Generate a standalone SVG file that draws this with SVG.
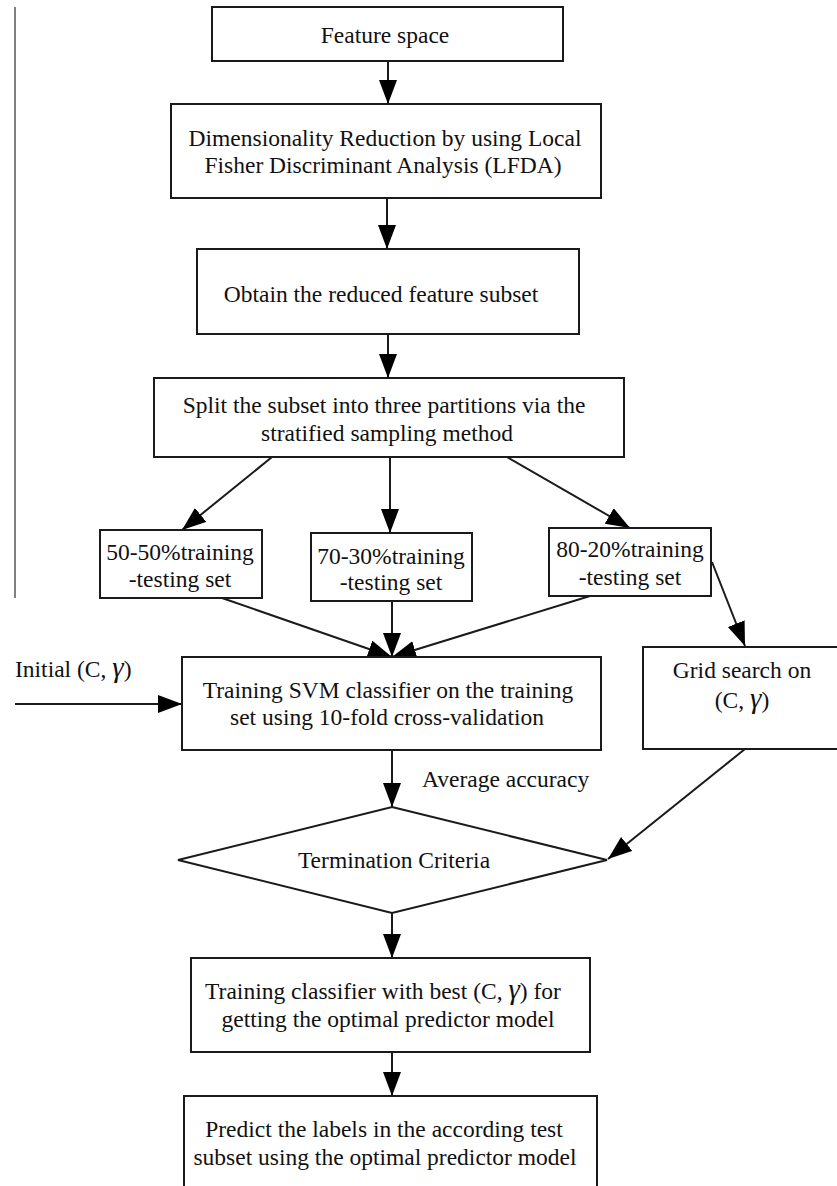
<svg xmlns="http://www.w3.org/2000/svg" width="837" height="1186" viewBox="0 0 837 1186">
<defs>
<style>
.box{fill:#fff;stroke:#1a1a1a;stroke-width:2}
.t{font-family:"Liberation Serif","Times New Roman",serif;font-size:23.5px;fill:#111}
.m{text-anchor:middle}
.g{font-style:italic;font-size:29px}
.c{stroke:#1a1a1a;stroke-width:2;fill:none}
</style>
<marker id="ah" markerUnits="userSpaceOnUse" markerWidth="25" markerHeight="19" refX="24" refY="9" orient="auto">
<path d="M0,0 L24,9 L0,18 z" fill="#000"/>
</marker>
</defs>
<rect width="837" height="1186" fill="#fff"/>
<line x1="15" y1="7" x2="15" y2="598" stroke="#808080" stroke-width="2"/>

<g id="connectors">
<line class="c" x1="388" y1="61" x2="388" y2="104" marker-end="url(#ah)"/>
<line class="c" x1="387" y1="198" x2="387" y2="249" marker-end="url(#ah)"/>
<line class="c" x1="388" y1="334" x2="388" y2="378" marker-end="url(#ah)"/>
<line class="c" x1="272" y1="457" x2="182" y2="530" marker-end="url(#ah)"/>
<line class="c" x1="390" y1="457" x2="390" y2="533" marker-end="url(#ah)"/>
<line class="c" x1="507" y1="457" x2="630" y2="528" marker-end="url(#ah)"/>
<line class="c" x1="222" y1="598" x2="392" y2="657" marker-end="url(#ah)"/>
<line class="c" x1="392" y1="601" x2="392" y2="657" marker-end="url(#ah)"/>
<line class="c" x1="590" y1="596" x2="392" y2="657" marker-end="url(#ah)"/>
<line class="c" x1="712" y1="562" x2="745" y2="646" marker-end="url(#ah)"/>
<line class="c" x1="15" y1="704" x2="182" y2="704" marker-end="url(#ah)"/>
<line class="c" x1="392" y1="750" x2="392" y2="807" marker-end="url(#ah)"/>
<line class="c" x1="745" y1="749" x2="608" y2="859" marker-end="url(#ah)"/>
<line class="c" x1="392" y1="913" x2="392" y2="958" marker-end="url(#ah)"/>
<line class="c" x1="392" y1="1052" x2="392" y2="1096" marker-end="url(#ah)"/>
<text class="t" x="422" y="787">Average accuracy</text>
<text class="t" x="15" y="677">Initial (C, <tspan class="g">γ</tspan>)</text>
</g>

<g id="feature-space">
<rect class="box" x="212" y="7" width="351" height="54"/>
<text class="t m" x="385" y="43">Feature space</text>
</g>
<g id="lfda">
<rect class="box" x="171" y="104" width="430" height="94"/>
<text class="t m" x="385" y="146">Dimensionality Reduction by using Local</text>
<text class="t m" x="383" y="173">Fisher Discriminant Analysis (LFDA)</text>
</g>
<g id="reduced">
<rect class="box" x="197" y="249" width="382" height="85"/>
<text class="t m" x="381" y="302">Obtain the reduced feature subset</text>
</g>
<g id="split">
<rect class="box" x="154" y="378" width="470" height="79"/>
<text class="t m" x="384" y="413">Split the subset into three partitions via the</text>
<text class="t m" x="387" y="441">stratified sampling method</text>
</g>
<g id="set-50">
<rect class="box" x="100" y="530" width="162" height="68"/>
<text class="t m" x="180" y="560">50-50%training</text>
<text class="t m" x="180" y="587">-testing set</text>
</g>
<g id="set-70">
<rect class="box" x="311" y="533" width="161" height="68"/>
<text class="t m" x="391" y="564">70-30%training</text>
<text class="t m" x="391" y="590">-testing set</text>
</g>
<g id="set-80">
<rect class="box" x="549" y="528" width="162" height="68"/>
<text class="t m" x="630" y="557">80-20%training</text>
<text class="t m" x="630" y="585">-testing set</text>
</g>
<g id="svm">
<rect class="box" x="182" y="657" width="419" height="93"/>
<text class="t m" x="388" y="698">Training SVM classifier on the training</text>
<text class="t m" x="387" y="725">set using 10-fold cross-validation</text>
</g>
<g id="grid">
<rect class="box" x="643" y="647" width="200" height="102"/>
<text class="t m" x="742" y="678">Grid search on</text>
<text class="t m" x="742" y="708">(C, <tspan class="g">γ</tspan>)</text>
</g>
<g id="termination">
<polygon class="box" points="392,807 607,860 392,913 178,860"/>
<text class="t m" x="394" y="868">Termination Criteria</text>
</g>
<g id="best">
<rect class="box" x="191" y="958" width="399" height="94"/>
<text class="t m" x="383" y="999">Training classifier with best (C, <tspan class="g">γ</tspan>) for</text>
<text class="t m" x="388" y="1027">getting the optimal predictor model</text>
</g>
<g id="predict">
<rect class="box" x="184" y="1096" width="413" height="100"/>
<text class="t m" x="384" y="1137">Predict the labels in the according test</text>
<text class="t m" x="385" y="1165">subset using the optimal predictor model</text>
</g>
</svg>
